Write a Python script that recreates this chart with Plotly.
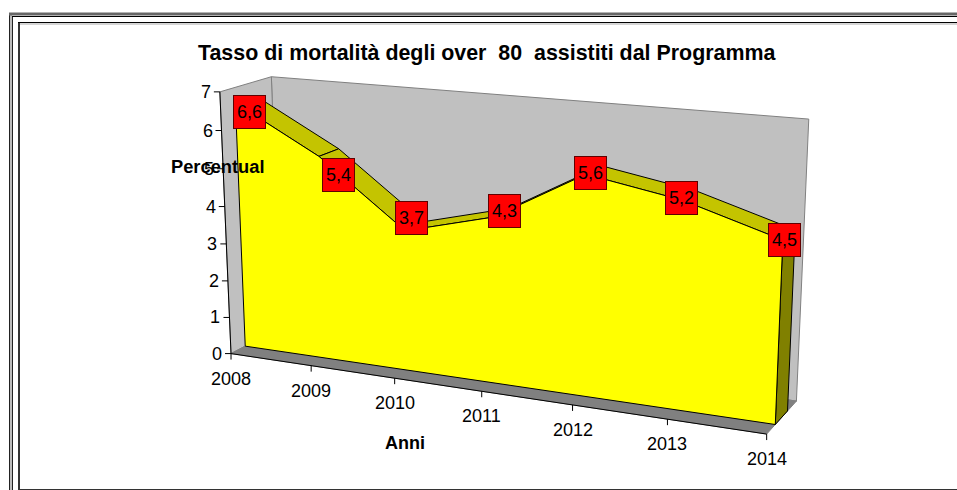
import numpy as np
import plotly.graph_objects as go

# ---- data ----
years = ["2008", "2009", "2010", "2011", "2012", "2013", "2014"]
mortality = [6.6, 5.4, 3.7, 4.3, 5.6, 5.2, 4.5]
mortality_labels = ["6,6", "5,4", "3,7", "4,3", "5,6", "5,2", "4,5"]
y_ticks = [0, 1, 2, 3, 4, 5, 6, 7]
title = "Tasso di mortalità degli over  80  assistiti dal Programma"
y_title = "Percentual"
x_title = "Anni"

# ---- 3-D perspective model (category index, value, depth) -> page position ----
CALIB = [
    ((0, 0, 0), (231, 354)), ((1, 0, 0), (311, 367)), ((2, 0, 0), (394, 379)),
    ((5, 0, 0), (667, 419)), ((6, 0, 0), (767, 434)), ((0, 7, 0), (219, 91)),
    ((0, 7, 1), (271, 77)), ((6, 7, 1), (809, 120)), ((6, 0, 1), (797, 401)),
    ((0, 0, .28), (246, 345)), ((6, 0, .28), (775, 424)), ((6, 0, .71), (788, 410)),
    ((0, 6.6, .28), (237, 104)), ((1, 5.4, .28), (320, 155)), ((1, 5.4, .71), (338, 148)),
]
rows, rhs = [], []
for (a, b, c), (u, v) in CALIB:
    rows.append([a, b, c, 1, 0, 0, 0, 0, -u * a, -u * b, -u * c]); rhs.append(u)
    rows.append([0, 0, 0, 0, a, b, c, 1, -v * a, -v * b, -v * c]); rhs.append(v)
P = np.linalg.lstsq(np.array(rows, float), np.array(rhs, float), rcond=None)[0]
P = np.append(P, 1).reshape(3, 4)


def proj(i, val, z):
    q = P @ np.array([i, val, z, 1.0])
    return q[0] / q[2], q[1] / q[2]


Z0, Z1 = 0.28, 0.69
N = len(years) - 1
fig = go.Figure()


def poly(points, fill, line, width=1):
    xs = [p[0] for p in points] + [points[0][0]]
    ys = [p[1] for p in points] + [points[0][1]]
    fig.add_trace(go.Scatter(x=xs, y=ys, mode="lines", fill="toself", fillcolor=fill,
                             line=dict(color=line, width=width), hoverinfo="skip", showlegend=False))


def seg(a, b, color="#000000", width=1):
    fig.add_trace(go.Scatter(x=[a[0], b[0]], y=[a[1], b[1]], mode="lines",
                             line=dict(color=color, width=width), hoverinfo="skip", showlegend=False))


# walls and floor
poly([proj(0, 0, 1), proj(N, 0, 1), proj(N, 7, 1), proj(0, 7, 1)], "#C0C0C0", "#808080")
poly([proj(0, 0, 0), proj(0, 0, 1), proj(0, 7, 1), proj(0, 7, 0)], "#C0C0C0", "#808080")
poly([proj(0, 0, 0), proj(N, 0, 0), proj(N, 0, 1), proj(0, 0, 1)], "#808080", "#808080")

# top bands of the area
for i in range(N):
    poly([proj(i, mortality[i], Z0), proj(i + 1, mortality[i + 1], Z0),
          proj(i + 1, mortality[i + 1], Z1), proj(i, mortality[i], Z1)], "#C4C400", "#000000")
# right end of the area
poly([proj(N, 0, Z0), proj(N, mortality[N], Z0), proj(N, mortality[N], Z1), proj(N, 0, Z1)],
     "#808000", "#000000")
# front of the area
front = [proj(0, 0, Z0)] + [proj(i, m, Z0) for i, m in enumerate(mortality)] + [proj(N, 0, Z0)]
poly(front, "#FFFF00", "#000000")

# axes
seg(proj(0, 0, 0), proj(0, 7, 0), "#000000")
seg(proj(0, 0, 0), proj(N, 0, 0), "#000000")
for t in y_ticks:
    x0, y0 = proj(0, t, 0)
    seg((x0 - 6, y0), (x0, y0), "#000000")
    fig.add_annotation(x=x0 - 7, y=y0, text=str(t), showarrow=False, xanchor="right", yanchor="middle",
                       font=dict(size=18, color="#000000"))
for i, lab in enumerate(years):
    x0, y0 = proj(i, 0, 0)
    seg((x0, y0), (x0, y0 + 6), "#000000")
    fig.add_annotation(x=x0, y=y0 + 25, text=lab, showarrow=False, xanchor="center", yanchor="middle",
                       font=dict(size=18, color="#000000"))

# data labels: Excel nudges each label differently around its point
LABEL_NUDGE = [(3.5, 12), (10, 22), (-3, -8), (3, -2), (-3, 3), (-8, 2), (-5, 5)]
for i, m in enumerate(mortality):
    xa, ya = proj(i, m, Z0)
    xb, yb = proj(i, m, Z1)
    dx, dy = LABEL_NUDGE[i]
    fig.add_annotation(x=(xa + xb) / 2 + dx, y=(ya + yb) / 2 + dy, text=mortality_labels[i], showarrow=False,
                       xanchor="center", yanchor="middle", width=31, height=32, bgcolor="#FF0000",
                       bordercolor="#600000", borderwidth=1, borderpad=0, font=dict(size=18, color="#000000"))

fig.add_annotation(x=486.5, y=52.5, text="<b>" + title + "</b>", showarrow=False, font=dict(size=21.4, color="#000000"))
fig.add_annotation(x=217, y=166, text="<b>" + y_title + "</b>", showarrow=False, font=dict(size=18.3, color="#000000"))
fig.add_annotation(x=404.5, y=443, text="<b>" + x_title + "</b>", showarrow=False, font=dict(size=18, color="#000000"))

FRAME = [
    (9.5, 14, 9.5, 490, "#222222", 1), (11, 15, 11, 490, "#BBBBBB", 2), (12.5, 16, 12.5, 490, "#222222", 1),
    (9, 14, 957, 14, "#666666", 3), (12, 16.5, 957, 16.5, "#000000", 1),
    (19, 22, 19, 490, "#333333", 2), (18, 22.5, 957, 22.5, "#000000", 1), (20, 24, 957, 24, "#AAAAAA", 1),
    (18, 489.5, 957, 489.5, "#333333", 1),
]
fig.update_layout(
    width=957, height=490, margin=dict(l=0, r=0, t=0, b=0), paper_bgcolor="#FFFFFF", plot_bgcolor="#FFFFFF",
    font=dict(family="Liberation Sans, Arial, sans-serif"), showlegend=False,
    xaxis=dict(range=[0, 957], visible=False, fixedrange=True),
    yaxis=dict(range=[490, 0], visible=False, fixedrange=True),
    shapes=[dict(type="line", xref="x", yref="y", layer="below", x0=a, y0=b, x1=c, y1=d,
                 line=dict(color=col, width=w)) for a, b, c, d, col, w in FRAME],
)
fig.write_html("out.html", config={"displayModeBar": False},
               post_script="document.body.style.margin='0';document.body.style.overflow='hidden';")
